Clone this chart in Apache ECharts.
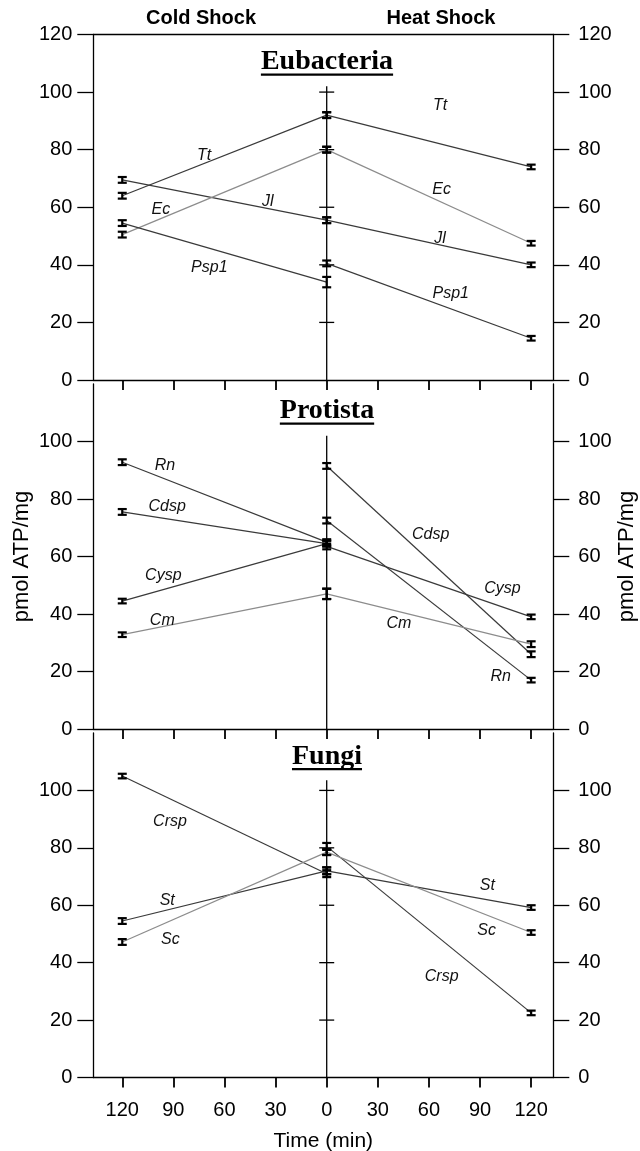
<!DOCTYPE html>
<html lang="en">
<head>
<meta charset="UTF-8" />
<title>ATP after cold and heat shock</title>
<script src="https://cdn.jsdelivr.net/npm/echarts@6/dist/echarts.min.js"></script>
<style>html,body{margin:0;padding:0;background:#fff}</style>
</head>
<body>
<div id="main" style="width:640px;height:1151px"></div>
<script>
// time axis: cold shock drawn to the left (negative), heat shock to the right
var timeTicks = [-120, -90, -60, -30, 0, 30, 60, 90, 120];
var yTicksTop = [0, 20, 40, 60, 80, 100, 120];
var yTicks = [0, 20, 40, 60, 80, 100];
var panelNames = ['Eubacteria', 'Protista', 'Fungi'];

// cold = [value at 120 min, value at 0], heat = [value at 0, value at 120 min]
var eubNames = ['Tt', 'Jl', 'Ec', 'Psp1'];
var eubCold = [[64, 92], [69.5, 55.5], [50.5, 80], [54.5, 34]];
var eubHeat = [[92, 74], [55.5, 40], [80, 47.5], [40.5, 14.5]];
var eubErrCold = [[1, 1], [1, 1], [1, 1], [1, 1.8]];
var eubErrHeat = [[1, 0.8], [1, 0.8], [1, 0.8], [1, 0.8]];
var eubLabelCold = [[-72, 78], [-34.6, 62], [-97.3, 59.3], [-68.9, 39]];
var eubLabelHeat = [[66.5, 95.2], [66.5, 49.2], [67.5, 66], [72.8, 29.9]];

var proNames = ['Rn', 'Cdsp', 'Cysp', 'Cm'];
var proCold = [[92.8, 65], [75.5, 64.5], [44.5, 64.5], [32.8, 47]];
var proHeat = [[72.5, 17], [91.5, 26], [63.5, 39], [47, 29.5]];
var proErrCold = [[1, 1], [1, 1], [0.8, 1], [0.8, 1.8]];
var proErrHeat = [[1, 0.8], [1, 1], [1, 0.8], [1.8, 1]];
var proLabelCold = [[-94.9, 91.5], [-93.6, 77.4], [-95.9, 53.4], [-96.5, 37.7]];
var proLabelHeat = [[102.1, 18.3], [61, 67.8], [103.1, 48.7], [42.4, 36.6]];

var funNames = ['Crsp', 'St', 'Sc'];
var funCold = [[105, 71], [54.5, 72], [47.2, 78.5]];
var funHeat = [[80.5, 22.5], [72, 59.2], [78.5, 50.5]];
var funErrCold = [[0.8, 1.2], [1, 1.2], [1, 1]];
var funErrHeat = [[1.2, 0.8], [1.2, 0.8], [1, 0.8]];
var funLabelCold = [[-92, 89.3], [-93.6, 61.5], [-91.8, 48.1]];
var funLabelHeat = [[67.5, 35.1], [94.3, 66.7], [93.9, 51.1]];

// middle (time 0) axis
var midTop = [102, 102, 103.5];
var midTicks = [[20, 40, 60, 80, 100], [], [20, 40, 60, 80, 100]];

var lightOnes = ['Ec', 'Cm', 'Sc'];
var sans = '"Liberation Sans", Arial, sans-serif';
var serif = '"Liberation Serif", "Times New Roman", serif';

var panels = [
  { names: eubNames, cold: eubCold, heat: eubHeat, errC: eubErrCold, errH: eubErrHeat, labC: eubLabelCold, labH: eubLabelHeat },
  { names: proNames, cold: proCold, heat: proHeat, errC: proErrCold, errH: proErrHeat, labC: proLabelCold, labH: proLabelHeat },
  { names: funNames, cold: funCold, heat: funHeat, errC: funErrCold, errH: funErrHeat, labC: funLabelCold, labH: funLabelHeat }
];

var gridTops = [34.5, 384, 733];
var gridH = [345.5, 345, 344.5];

var chart = echarts.init(document.getElementById('main'));

var grids = [], xAxes = [], yAxes = [], series = [];
for (let p = 0; p < 3; p++) {
  grids.push({ left: 93.3, right: 86.7, top: gridTops[p], height: gridH[p], outerBoundsMode: 'none', containLabel: false });
  xAxes.push({
    type: 'value', gridIndex: p, min: -137, max: 133,
    axisLine: { show: true, onZero: false, lineStyle: { color: '#000', width: 1.3 } },
    axisTick: { show: true, customValues: timeTicks, length: 10, lineStyle: { color: '#000', width: 1.8 } },
    axisLabel: {
      show: p === 2, customValues: timeTicks, margin: 23, fontSize: 20, color: '#000', fontFamily: sans,
      formatter: function (v) { return Math.abs(v); }
    },
    splitLine: { show: false },
    name: p === 2 ? 'Time (min)' : '', nameLocation: 'middle', nameGap: 53,
    nameTextStyle: { fontSize: 21, color: '#000', fontFamily: sans }
  });
}
// frame line on top of first panel
xAxes.push({
  type: 'value', gridIndex: 0, position: 'top', min: -137, max: 133,
  axisLine: { show: true, onZero: false, lineStyle: { color: '#000', width: 1.3 } },
  axisTick: { show: false }, axisLabel: { show: false }, splitLine: { show: false }
});
['left', 'right'].forEach(function (side) {
  for (let p = 0; p < 3; p++) {
    var vals = p === 0 ? yTicksTop : yTicks;
    yAxes.push({
      type: 'value', gridIndex: p, position: side, min: 0, max: 120, interval: 20,
      axisLine: { show: true, onZero: false, lineStyle: { color: '#000', width: 1.3 } },
      axisTick: { show: true, customValues: vals, length: 16, lineStyle: { color: '#000', width: 1.3 } },
      axisLabel: { customValues: vals, margin: side === 'left' ? 21 : 25, fontSize: 20, color: '#000', fontFamily: sans },
      splitLine: { show: false },
      name: p === 1 ? 'pmol ATP/mg' : '', nameLocation: 'middle', nameRotate: 90,
      nameMoveOverlap: false,
      nameGap: side === 'left' ? 60 : 63,
      nameTextStyle: { fontSize: 22, color: '#000', fontFamily: sans }
    });
  }
});

function errItem(params, api) {
  var x = api.value(0), y = api.value(1), e = api.value(2);
  var a = api.coord([x, y + e]), b = api.coord([x, y - e]);
  var w = 4.5, st = { stroke: '#000', lineWidth: 2.2 };
  return {
    type: 'group', children: [
      { type: 'line', shape: { x1: a[0], y1: a[1], x2: b[0], y2: b[1] }, style: st },
      { type: 'line', shape: { x1: a[0] - w, y1: a[1], x2: a[0] + w, y2: a[1] }, style: st },
      { type: 'line', shape: { x1: b[0] - w, y1: b[1], x2: b[0] + w, y2: b[1] }, style: st }
    ]
  };
}

for (let p = 0; p < 3; p++) {
  var pn = panels[p];
  var errData = [], labData = [], labText = [];
  pn.names.forEach(function (nm, i) {
    var col = lightOnes.indexOf(nm) >= 0 ? '#8c8c8c' : '#3a3a3a';
    var common = {
      type: 'line', xAxisIndex: p, yAxisIndex: p, showSymbol: false, silent: true,
      lineStyle: { color: col, width: 1.2 }, z: 2
    };
    series.push(Object.assign({ data: [[-120, pn.cold[i][0]], [0, pn.cold[i][1]]] }, common));
    series.push(Object.assign({ data: [[0, pn.heat[i][0]], [120, pn.heat[i][1]]] }, common));
    errData.push([-120, pn.cold[i][0], pn.errC[i][0]]);
    errData.push([0, pn.cold[i][1], pn.errC[i][1]]);
    errData.push([0, pn.heat[i][0], pn.errH[i][0]]);
    errData.push([120, pn.heat[i][1], pn.errH[i][1]]);
    labData.push(pn.labC[i]); labText.push(nm);
    labData.push(pn.labH[i]); labText.push(nm);
  });
  // middle axis at time 0
  series.push({
    type: 'custom', xAxisIndex: p, yAxisIndex: p, silent: true, z: 1,
    data: [[0, midTop[p]]],
    renderItem: (function (ticks) {
      return function (params, api) {
        var t = api.coord([0, api.value(1)]), b = api.coord([0, 0]);
        var kids = [{ type: 'line', shape: { x1: t[0], y1: t[1], x2: b[0], y2: b[1] }, style: { stroke: '#000', lineWidth: 1.3 } }];
        ticks.forEach(function (v) {
          var c = api.coord([0, v]);
          kids.push({ type: 'line', shape: { x1: c[0] - 7.5, y1: c[1], x2: c[0] + 7.5, y2: c[1] }, style: { stroke: '#000', lineWidth: 1.3 } });
        });
        return { type: 'group', children: kids };
      };
    })(midTicks[p])
  });
  series.push({ type: 'custom', xAxisIndex: p, yAxisIndex: p, silent: true, z: 3, data: errData, renderItem: errItem });
  series.push({
    type: 'custom', xAxisIndex: p, yAxisIndex: p, silent: true, z: 4, data: labData,
    renderItem: (function (txt) {
      return function (params, api) {
        var c = api.coord([api.value(0), api.value(1)]);
        return {
          type: 'text', x: c[0], y: c[1],
          style: { text: txt[params.dataIndex], fill: '#111', font: 'italic 16px ' + sans, align: 'center', verticalAlign: 'middle' }
        };
      };
    })(labText)
  });
}

// panel titles, underlined
var ctx = document.createElement('canvas').getContext('2d');
var titleFont = 'bold 28px ' + serif;
ctx.font = titleFont;
var titleBase = [71, 420, 765.5];
var graphics = [
  { type: 'text', x: 201, y: 18, style: { text: 'Cold Shock', font: 'bold 20px ' + sans, fill: '#000', align: 'center', verticalAlign: 'middle' } },
  { type: 'text', x: 441, y: 18, style: { text: 'Heat Shock', font: 'bold 20px ' + sans, fill: '#000', align: 'center', verticalAlign: 'middle' } }
];
panelNames.forEach(function (nm, p) {
  var w = ctx.measureText(nm).width;
  graphics.push({ type: 'text', x: 327, y: titleBase[p] - 9, style: { text: nm, font: titleFont, fill: '#000', align: 'center', verticalAlign: 'middle' } });
  graphics.push({ type: 'rect', shape: { x: 327 - w / 2, y: titleBase[p] + 2.5, width: w, height: 2.2 }, style: { fill: '#000' } });
});

chart.setOption({
  animation: false,
  grid: grids,
  xAxis: xAxes,
  yAxis: yAxes,
  series: series,
  graphic: graphics
});
</script>
</body>
</html>
